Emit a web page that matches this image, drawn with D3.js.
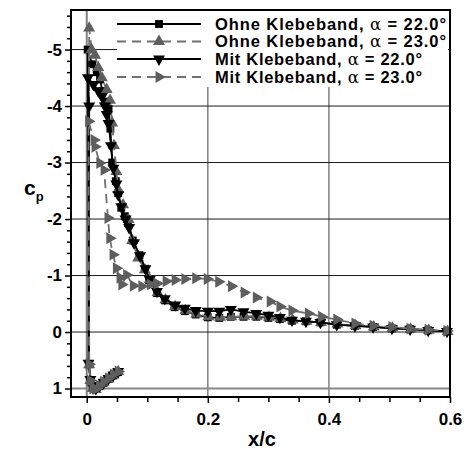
<!DOCTYPE html>
<html><head><meta charset="utf-8">
<script src="https://cdn.jsdelivr.net/npm/d3@7"></script>
<style>body{margin:0;background:#fff}</style>
</head><body><svg id="c" width="473" height="450"></svg>
<script>
// ---- data ----
const xTicks = [0, 0.2, 0.4, 0.6];
const xTickLabels = ["0", "0.2", "0.4", "0.6"];
const yTicks = [-5, -4, -3, -2, -1, 0, 1];
const yTickLabels = ["-5", "-4", "-3", "-2", "-1", "0", "1"];
const seriesNames = ["Ohne Klebeband, ", "Ohne Klebeband, ", "Mit Klebeband, ", "Mit Klebeband, "];
const seriesAlpha = ["22.0°", "23.0°", "22.0°", "23.0°"];

const ohne22 = [[0.052,0.71],[0.044,0.77],[0.036,0.83],[0.028,0.90],[0.021,0.96],[0.015,1.01],[0.010,0.99],[0.006,0.85],[0.004,0.57],
 [0.0015,-5.00],[0.009,-4.74],[0.0165,-4.60],[0.022,-4.47],[0.026,-4.26],[0.030,-4.08],[0.036,-3.95],[0.039,-3.60],[0.042,-3.00],[0.048,-2.67],[0.052,-2.46],[0.057,-2.20],[0.063,-2.05],[0.068,-1.93],[0.076,-1.62],[0.087,-1.36],[0.096,-1.12],[0.103,-0.92],[0.116,-0.69],[0.129,-0.56],[0.145,-0.44],[0.162,-0.37],[0.180,-0.31],[0.200,-0.26],[0.219,-0.25],[0.238,-0.27],[0.259,-0.27],[0.280,-0.27],[0.300,-0.25],[0.319,-0.23],[0.339,-0.20],[0.362,-0.19],[0.386,-0.17],[0.413,-0.13],[0.443,-0.11],[0.473,-0.09],[0.504,-0.065],[0.534,-0.05],[0.564,-0.03],[0.595,-0.01]];
const ohne23 = [[0.052,0.70],[0.044,0.76],[0.036,0.83],[0.028,0.89],[0.021,0.95],[0.015,1.02],[0.010,1.00],[0.006,0.86],[0.004,0.58],
 [0.004,-5.38],[0.008,-5.00],[0.0137,-4.90],[0.019,-4.68],[0.025,-4.50],[0.033,-4.29],[0.0385,-4.10],[0.042,-3.70],[0.045,-3.30],[0.049,-2.84],[0.052,-2.52],[0.060,-2.25],[0.069,-1.99],[0.075,-1.62],[0.085,-1.31],[0.096,-1.10],[0.104,-0.93],[0.117,-0.70],[0.130,-0.57],[0.146,-0.45],[0.163,-0.38],[0.181,-0.32],[0.201,-0.27],[0.220,-0.26],[0.239,-0.27],[0.260,-0.28],[0.281,-0.28],[0.301,-0.26],[0.320,-0.24],[0.340,-0.21],[0.363,-0.19],[0.387,-0.17],[0.414,-0.14],[0.444,-0.11],[0.474,-0.09],[0.505,-0.07],[0.535,-0.05],[0.565,-0.03],[0.596,-0.01]];
const mit22 = [[0.052,0.70],[0.044,0.76],[0.036,0.82],[0.028,0.89],[0.021,0.95],[0.015,1.00],[0.010,0.98],[0.006,0.84],[0.003,0.55],
 [0.004,-4.00],[0.002,-4.50],[0.011,-4.38],[0.019,-4.27],[0.025,-4.17],[0.030,-4.00],[0.033,-3.85],[0.036,-3.69],[0.040,-3.30],[0.044,-2.90],[0.049,-2.62],[0.052,-2.43],[0.057,-2.22],[0.064,-2.00],[0.070,-1.85],[0.078,-1.58],[0.088,-1.35],[0.097,-1.12],[0.104,-0.93],[0.116,-0.72],[0.129,-0.59],[0.146,-0.48],[0.162,-0.42],[0.180,-0.38],[0.200,-0.37],[0.219,-0.37],[0.238,-0.40],[0.259,-0.36],[0.280,-0.33],[0.300,-0.30],[0.319,-0.26],[0.339,-0.21],[0.362,-0.19],[0.386,-0.17],[0.413,-0.13],[0.443,-0.11],[0.473,-0.09],[0.504,-0.065],[0.534,-0.05],[0.564,-0.03],[0.595,-0.01]];
const mit23 = [[0.052,0.70],[0.044,0.75],[0.036,0.82],[0.028,0.88],[0.021,0.95],[0.015,1.01],[0.010,1.00],[0.006,0.86],[0.004,0.57],
 [0.003,-3.73],[0.012,-3.40],[0.0137,-3.28],[0.0215,-2.99],[0.0286,-2.87],[0.035,-2.02],[0.038,-1.66],[0.0434,-1.37],[0.049,-1.13],[0.055,-0.96],[0.058,-0.84],[0.066,-1.01],[0.077,-0.82],[0.091,-0.81],[0.105,-0.84],[0.116,-0.86],[0.131,-0.90],[0.146,-0.92],[0.162,-0.94],[0.180,-0.95],[0.199,-0.94],[0.218,-0.89],[0.239,-0.81],[0.260,-0.70],[0.280,-0.61],[0.303,-0.54],[0.319,-0.45],[0.339,-0.38],[0.366,-0.33],[0.388,-0.27],[0.413,-0.22],[0.443,-0.15],[0.473,-0.11],[0.504,-0.09],[0.534,-0.06],[0.564,-0.04],[0.595,-0.02]];

// ---- layout ----
const svg = d3.select("#c");
const L = 71, T = 10, W = 379, H = 387;
const x = d3.scaleLinear().domain([-0.026, 0.6]).range([L, L + W]);
const y = d3.scaleLinear().domain([-5.7, 1.15]).range([T, T + H]);

const series = [
  {data: ohne22, stroke: "#000", dash: null, fill: "#000", sym: d3.symbolSquare, size: 62, rot: 0},
  {data: ohne23, stroke: "#707070", dash: "9,6", fill: "#5e5e5e", sym: d3.symbolTriangle, size: 62, rot: 0},
  {data: mit22, stroke: "#000", dash: null, fill: "#000", sym: d3.symbolTriangle, size: 62, rot: 180},
  {data: mit23, stroke: "#707070", dash: "9,6", fill: "#5e5e5e", sym: d3.symbolTriangle, size: 62, rot: 90}
];

// grid
const g = svg.append("g");
g.selectAll(".vg").data(xTicks).join("line")
  .attr("x1", d => x(d)).attr("x2", d => x(d)).attr("y1", T).attr("y2", T + H)
  .attr("stroke", "#808080").attr("stroke-width", d => d === 0 ? 2 : 1.5);
g.selectAll(".hg").data(yTicks).join("line")
  .attr("x1", L).attr("x2", L + W).attr("y1", d => y(d)).attr("y2", d => y(d))
  .attr("stroke", d => d === 1 ? "#888" : "#1a1a1a").attr("stroke-width", d => d === 1 ? 2 : 1);

// series
const line = d3.line().x(d => x(d[0])).y(d => y(d[1]));
series.forEach(s => {
  svg.append("path").datum(s.data).attr("d", line)
    .attr("fill", "none").attr("stroke", s.stroke).attr("stroke-width", 1.8)
    .attr("stroke-dasharray", s.dash);
  svg.append("g").selectAll("path").data(s.data).join("path")
    .attr("d", d3.symbol().type(s.sym).size(s.size))
    .attr("transform", d => `translate(${x(d[0])},${y(d[1])}) rotate(${s.rot})`)
    .attr("fill", s.fill);
});

// legend
const lg = svg.append("g");
lg.append("rect").attr("x", 117).attr("y", T).attr("width", 331).attr("height", 77).attr("fill", "#fff");
const rowY = [24, 41.5, 59, 77];
series.forEach((s, i) => {
  const yy = rowY[i];
  lg.append("line").attr("x1", 117).attr("x2", 201).attr("y1", yy).attr("y2", yy)
    .attr("stroke", s.stroke).attr("stroke-width", 1.8).attr("stroke-dasharray", s.dash);
  lg.append("path").attr("d", d3.symbol().type(s.sym).size(s.size))
    .attr("transform", `translate(159,${yy}) rotate(${s.rot})`).attr("fill", s.fill);
  const t = lg.append("text").attr("x", 215).attr("y", yy + 5.5)
    .attr("font-family", "Liberation Sans, Arial, sans-serif").attr("font-weight", "bold")
    .attr("font-size", 16.5).attr("fill", "#000")
    .attr("textLength", i < 2 ? 231 : 207).attr("lengthAdjust", "spacing");
  t.append("tspan").text(seriesNames[i]);
  t.append("tspan").attr("font-family", "DejaVu Serif, serif").attr("font-weight", "normal").text("α");
  t.append("tspan").text(" = " + seriesAlpha[i]);
});

// border
svg.append("rect").attr("x", L).attr("y", T).attr("width", W).attr("height", H)
  .attr("fill", "none").attr("stroke", "#000").attr("stroke-width", 2);

// axes
const font = "Liberation Sans, Arial, sans-serif";
const yMinor = d3.range(-5.6, 1.01, 0.2).map(v => +v.toFixed(1)).filter(v => !yTicks.includes(v));
const xMinor = d3.range(-0.0, 0.6, 0.05).map(v => +v.toFixed(2)).filter(v => !xTicks.includes(v));

const ax = svg.append("g").attr("transform", `translate(${L},0)`)
  .call(d3.axisLeft(y).tickValues(yTicks).tickSize(6).tickPadding(3).tickFormat((d, i) => yTickLabels[i]));
ax.select(".domain").remove();
svg.append("g").attr("transform", `translate(${L},0)`)
  .call(d3.axisLeft(y).tickValues(yMinor).tickSize(4).tickFormat(""))
  .select(".domain").remove();
const bx = svg.append("g").attr("transform", `translate(0,${T + H})`)
  .call(d3.axisBottom(x).tickValues(xTicks).tickSize(6).tickPadding(10).tickFormat((d, i) => xTickLabels[i]));
bx.select(".domain").remove();
svg.append("g").attr("transform", `translate(0,${T + H})`)
  .call(d3.axisBottom(x).tickValues(xMinor).tickSize(5).tickFormat(""))
  .select(".domain").remove();
svg.selectAll(".tick line").attr("stroke", "#000").attr("stroke-width", 1.5);
svg.selectAll(".tick text").attr("font-family", font).attr("font-weight", "bold")
  .attr("font-size", 17).attr("fill", "#000");

// axis titles
svg.append("text").attr("x", 262).attr("y", 446).attr("text-anchor", "middle")
  .attr("font-family", font).attr("font-weight", "bold").attr("font-size", 20).text("x/c");
const yl = svg.append("text").attr("x", 24).attr("y", 195)
  .attr("font-family", font).attr("font-weight", "bold").attr("font-size", 21);
yl.append("tspan").text("c");
yl.append("tspan").attr("font-size", 13).attr("dy", 6).text("p");
</script></body></html>
